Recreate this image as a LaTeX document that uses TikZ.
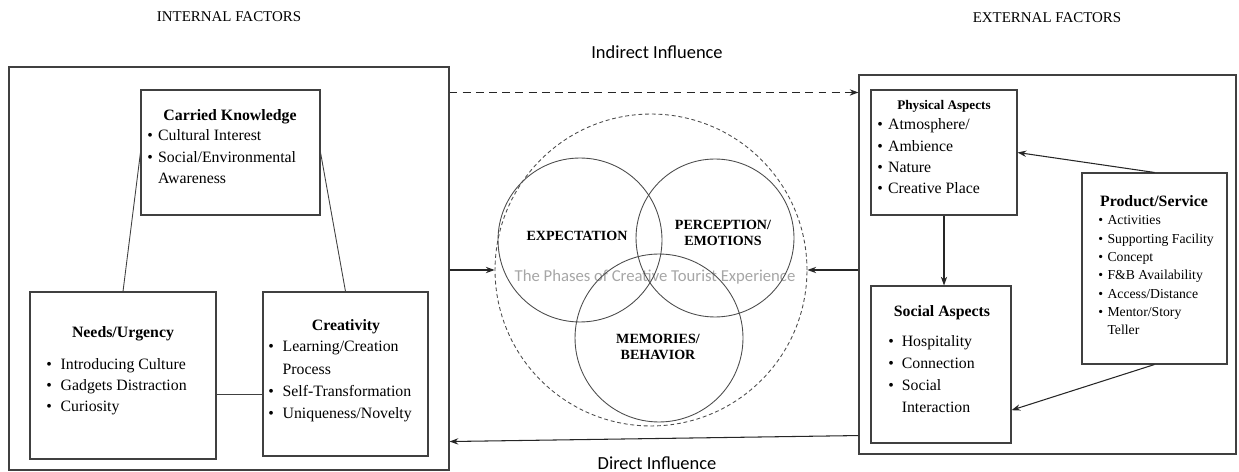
\documentclass[tikz,border=0pt]{standalone}
\usepackage{fontspec}
\setmainfont{Liberation Serif}
\newfontfamily\calib{Carlito}
\usetikzlibrary{fit,arrows.meta}

\newcommand{\blist}[2]{\begin{tabular}[t]{@{}l@{\hspace{#1}}l@{}}#2\end{tabular}}

\begin{document}
\begin{tikzpicture}[x=0.02cm,y=-0.02cm,
        panel/.style={draw=black!75,line width=0.6pt,inner sep=0pt},
        ring/.style={circle,draw=black!70,line width=0.5pt,inner sep=0pt},
        arr/.style={draw=black!85,line width=0.6pt,-{Stealth[length=5pt,width=3.6pt]}},
        head/.style={font=\fontsize{9}{12}\selectfont\bfseries},
        items/.style={anchor=base west,inner sep=0pt,font=\fontsize{9}{12}\selectfont},
        phaselabel/.style={align=center,font=\fontsize{8}{9.5}\selectfont\bfseries}]

    \useasboundingbox (0,0) rectangle (1239,472);

    % Headings
    \node[font=\fontsize{8.5}{10}\selectfont] (inttitle) at (229,17) {INTERNAL FACTORS};
    \node[font=\fontsize{8.5}{10}\selectfont] (exttitle) at (1047,18) {EXTERNAL FACTORS};
    \node[font=\calib\fontsize{10.5}{12}\selectfont] (indirect) at (657,52) {Indirect Influence};
    \node[font=\calib\fontsize{10.5}{12}\selectfont] (direct) at (657,463) {Direct Influence};

    % Internal factors
    \node[panel,fit={(9,67) (449,470)}] (internal) {};
    \node[panel,fit={(141,90) (320,215)}] (ck) {};
    \node[panel,fit={(30,292) (216,459)}] (needs) {};
    \node[panel,fit={(263,292) (428,456)}] (creat) {};

    \node[head] (cktitle) at (230,117) {Carried Knowledge};
    \node[items] (ckitems) at (147,141) {\blist{3pt}{\textbullet & Cultural Interest\\
        \textbullet & Social/Environmental\\ & Awareness}};

    \node[head] (needstitle) at (123,334) {Needs/Urgency};
    \node[items] (needsitems) at (46,369) {\blist{5pt}{\textbullet & Introducing Culture\\
        \textbullet & Gadgets Distraction\\ \textbullet & Curiosity}};

    \node[head] (creattitle) at (346,327) {Creativity};
    \node[items,font=\fontsize{9}{12.6}\selectfont] (creatitems) at (268,352) {\blist{5pt}{\textbullet & Learning/Creation\\
        & Process\\ \textbullet & Self-Transformation\\ \textbullet & Uniqueness/Novelty}};

    \draw[black!75,line width=0.5pt] (ck.west) -- (needs.north);
    \draw[black!75,line width=0.5pt] (ck.east) -- (creat.north);
    \draw[black!75,line width=0.5pt] ([yshift=-10.5pt]needs.east) -- ([yshift=-10.5pt]needs.east -| creat.west);

    % External factors
    \node[panel,fit={(859,75) (1236,454)}] (external) {};
    \node[panel,fit={(871,90) (1017,215)}] (phys) {};
    \node[panel,fit={(871,286) (1011,443)}] (social) {};
    \node[panel,fit={(1082,173) (1227,364)}] (prod) {};

    \node[head,font=\fontsize{7.5}{9}\selectfont\bfseries] (phystitle) at (944,106) {Physical Aspects};
    \node[items] (physitems) at (877,130) {\blist{3pt}{\textbullet & Atmosphere/\\
        \textbullet & Ambience\\ \textbullet & Nature\\ \textbullet & Creative Place}};

    \node[head] (socialtitle) at (942,313) {Social Aspects};
    \node[items,font=\fontsize{9}{12.4}\selectfont] (socialitems) at (888,347) {\blist{4.5pt}{\textbullet & Hospitality\\
        \textbullet & Connection\\ \textbullet & Social\\ & Interaction}};

    \node[head] (prodtitle) at (1154,201) {Product/Service};
    \node[items,font=\fontsize{7.8}{10.4}\selectfont] (proditems) at (1098,225) {\blist{2.5pt}{\textbullet & Activities\\
        \textbullet & Supporting Facility\\ \textbullet & Concept\\ \textbullet & F\&B Availability\\
        \textbullet & Access/Distance\\ \textbullet & Mentor/Story\\ & Teller}};

    \draw[arr] (phys.south) -- (phys.south |- social.north);
    \draw[arr] (prod.north) -- (phys.east);
    \draw[arr] (prod.south) -- ([yshift=-26pt]social.east);

    % Phases of the experience
    \node[font=\calib\fontsize{9.5}{11}\selectfont,text=black!35] (phasetext) at (655,277) {The Phases of Creative Tourist Experience};
    \node[ring,minimum size=6.24cm,dash pattern=on 2.2pt off 1.6pt] (phase) at (651,270) {};
    \node[ring,minimum size=3.28cm] (expect) at (580,240) {};
    \node[ring,minimum size=3.16cm] (percep) at (715,238) {};
    \node[ring,minimum size=3.36cm] (memo) at (659,338) {};
    \node[phaselabel] (expectlabel) at (577,236) {EXPECTATION};
    \node[phaselabel] (perceplabel) at (723,233) {PERCEPTION/\\EMOTIONS};
    \node[phaselabel] (memolabel) at (658,347) {MEMORIES/\\BEHAVIOR};

    % Influences
    \draw[arr,dash pattern=on 4.5pt off 3pt] ([yshift=-14.8pt]internal.north east) -- ([yshift=-14.8pt]internal.north east -| external.west);
    \draw[arr] (internal.east |- phase.west) -- (phase.west);
    \draw[arr] (external.west |- phase.east) -- (phase.east);
    \draw[arr] ([yshift=10.8pt]external.south west) -- ([yshift=16.5pt]internal.south east);
\end{tikzpicture}
\end{document}
